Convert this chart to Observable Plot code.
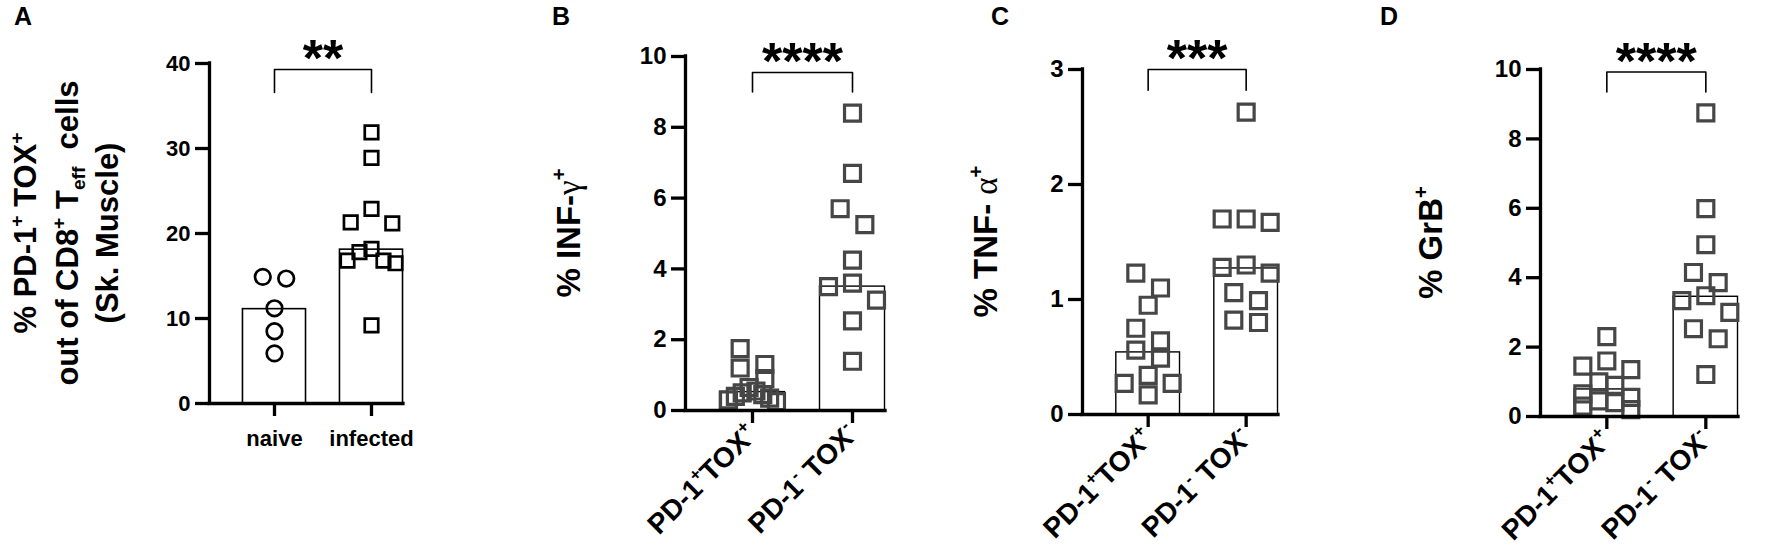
<!DOCTYPE html>
<html>
<head>
<meta charset="utf-8">
<script src="https://cdn.jsdelivr.net/npm/d3@7"></script>
<script src="https://cdn.jsdelivr.net/npm/@observablehq/plot@0.6"></script>
<style>
  html, body { margin: 0; padding: 0; background: #fff; }
  #fig { position: relative; width: 1772px; height: 550px; background: #fff; overflow: hidden; }
  #fig svg { position: absolute; top: 0; overflow: visible; }
  #fig svg text { font-family: "Liberation Sans", Arial, sans-serif; white-space: pre; }
  #fig svg line { stroke-width: 3.3px !important; stroke-linecap: square; }
  #fig svg g[aria-label$="tick"] path { stroke-width: 3.3px !important; }
</style>
</head>
<body>
<div id="fig"></div>
<script>
// ---------------- data ----------------
const panelLetters = ["A", "B", "C", "D"];

const aCategories = ["naive", "infected"];
const aNaive = [14.9, 14.7, 11.2, 8.5, 5.9];
const aInfected = [31.9, 28.9, 22.9, 21.3, 21.2, 18.2, 17.8, 16.8, 16.8, 16.5, 9.2];
const aBars = [11.1, 18.1];

const bcdCategories = ["PD-1^{+}TOX^{+}", "PD-1^{-} TOX^{-}"];

const bPos = [1.75, 1.3, 1.2, 0.9, 0.65, 0.55, 0.5, 0.45, 0.4, 0.35, 0.3, 0.25];
const bNeg = [8.4, 6.7, 5.7, 5.25, 4.25, 3.6, 3.5, 3.12, 2.53, 1.39];
const bBars = [0.52, 3.5];

const cPos = [1.23, 1.10, 0.95, 0.75, 0.64, 0.56, 0.49, 0.34, 0.27, 0.27, 0.17];
const cNeg = [2.63, 1.70, 1.67, 1.70, 1.30, 1.23, 1.28, 1.06, 0.99, 0.80, 0.82];
const cBars = [0.54, 1.27];

const dPos = [2.3, 1.6, 1.45, 1.35, 1.0, 0.9, 0.65, 0.55, 0.45, 0.4, 0.3, 0.2];
const dNeg = [8.75, 5.99, 4.95, 4.15, 3.86, 3.48, 3.34, 3.0, 2.53, 2.24, 1.21];
const dBars = [0.78, 3.45];

const yTicksA = [0, 10, 20, 30, 40];
const yTicksB = [0, 2, 4, 6, 8, 10];
const yTicksC = [0, 1, 2, 3];
const yTicksD = [0, 2, 4, 6, 8, 10];
const yMax = [40, 10, 3, 10];

const sigTop = [39.3, 9.55, 3.0, 9.93];
const sigFoot = [36.6, 9.0, 2.82, 9.35];
const sigStars = ["**", "****", "***", "****"];

const yLabelA = ["% PD-1^{+} TOX^{+}", "out of CD8^{+} T_{eff}  cells", "(Sk. Muscle)"];
const yLabelB = ["% INF-~{γ}^{+}"];
const yLabelC = ["% TNF- ~{α}^{+}"];
const yLabelD = ["% GrB^{+}"];

// ---------------- helpers ----------------
function rich(sel, markup, fs) {
  sel.text(null);
  const re = /(\^\{[^}]*\}|_\{[^}]*\}|~\{[^}]*\})/g;
  const parts = markup.split(re).filter(s => s !== "" && s !== undefined);
  let shift = 0;
  for (const p of parts) {
    let txt = p, size = fs, target = 0, serif = false;
    if (p.startsWith("^{")) { txt = p.slice(2, -1); size = fs * 0.62; target = -0.42 * fs; }
    else if (p.startsWith("_{")) { txt = p.slice(2, -1); size = fs * 0.62; target = 0.22 * fs; }
    else if (p.startsWith("~{")) { txt = p.slice(2, -1); serif = true; }
    const ts = sel.append("tspan").attr("font-size", size).text(txt);
    if (target !== shift) { ts.attr("dy", target - shift); shift = target; }
    if (serif) ts.attr("font-family", "'Liberation Serif', 'DejaVu Serif', serif").attr("font-weight", "normal");
  }
}

// Prism-like column scatter: rows of close values spread horizontally
function columnScatter(values, ppu, markerPx, maxSpreadPx, pxPerX) {
  const sorted = values.map((v, i) => ({v, i})).sort((a, b) => b.v - a.v);
  const rows = [];
  for (const p of sorted) {
    const row = rows[rows.length - 1];
    if (row && (row[0].v - p.v) * ppu < markerPx) row.push(p); else rows.push([p]);
  }
  const out = [];
  for (const row of rows) {
    const n = row.length;
    const step = n > 1 ? Math.min(markerPx * 1.3, maxSpreadPx / (n - 1)) : 0;
    const slots = d3.range(n).map(k => (k - (n - 1) / 2) * step)
      .sort((a, b) => Math.abs(a) - Math.abs(b) || a - b);
    row.forEach((p, k) => out.push({v: p.v, dx: slots[k] / pxPerX}));
  }
  return out;
}

// ---------------- layout ----------------
const H = 550;
const X0 = 0.33, X1 = 2.33, HALF = 0.325;
const cfg = [
  {left: 0,    width: 440, ml: 209, pw: 194, mt: 63, mb: 147, tickFont: 22, catFont: 22, rotate: 0,
   cats: aCategories, groups: [aNaive, aInfected], bars: aBars, yTicks: yTicksA,
   syms: ["circle", "square"], rs: [7.8, 7.6], color: "#000", sw: 2.7, markerPx: [18, 16], barSW: 1.6,
   ylab: yLabelA, ylabX: [36, 78, 118], ylabFont: 31, letterX: 23},
  {left: 440,  width: 450, ml: 245, pw: 200, mt: 56, mb: 140, tickFont: 24, catFont: 28, rotate: -45,
   cats: bcdCategories, groups: [bPos, bNeg], bars: bBars, yTicks: yTicksB,
   syms: ["square", "square"], rs: [9, 9], color: "#464646", sw: 3.2, markerPx: [19, 19], barSW: 1.4,
   ylab: yLabelB, ylabX: [140], ylabFont: 33, letterX: 121},
  {left: 890,  width: 440, ml: 192, pw: 196, mt: 69, mb: 136, tickFont: 24, catFont: 28, rotate: -45,
   cats: bcdCategories, groups: [cPos, cNeg], bars: cBars, yTicks: yTicksC,
   syms: ["square", "square"], rs: [9, 9], color: "#464646", sw: 3.2, markerPx: [19, 19], barSW: 1.4,
   ylab: yLabelC, ylabX: [107], ylabFont: 33, letterX: 110},
  {left: 1330, width: 442, ml: 210, pw: 198, mt: 69, mb: 134, tickFont: 24, catFont: 28, rotate: -45,
   cats: bcdCategories, groups: [dPos, dNeg], bars: dBars, yTicks: yTicksD,
   syms: ["square", "square"], rs: [9, 9], color: "#464646", sw: 3.2, markerPx: [19, 19], barSW: 1.4,
   ylab: yLabelD, ylabX: [112], ylabFont: 33, letterX: 59}
];

const fig = document.getElementById("fig");

cfg.forEach((c, pi) => {
  const ph = H - c.mt - c.mb;
  const ppu = ph / yMax[pi];
  const pxPerX = c.pw / (X1 - X0);
  const barData = c.bars.map((v, i) => ({x1: i + 1 - HALF, x2: i + 1 + HALF, v}));
  const dotMarks = c.groups.map((vals, gi) => {
    const pts = columnScatter(vals, ppu, c.markerPx[gi], 48, pxPerX);
    return Plot.dot(pts, {
      x: d => gi + 1 + d.dx, y: "v", symbol: c.syms[gi], r: c.rs[gi],
      stroke: c.color, strokeWidth: c.sw, fill: "none"
    });
  });
  const bracket = [
    {x: 1, y: sigFoot[pi]}, {x: 1, y: sigTop[pi]},
    {x: 2, y: sigTop[pi]}, {x: 2, y: sigFoot[pi]}
  ];
  const starFs = 52;

  const svg = Plot.plot({
    width: c.width, height: H,
    marginLeft: c.ml, marginRight: c.width - c.ml - c.pw,
    marginTop: c.mt, marginBottom: c.mb,
    x: {domain: [X0, X1], axis: null},
    y: {domain: [0, yMax[pi]], axis: null},
    style: {fontFamily: "'Liberation Sans', Arial, sans-serif", background: "transparent", overflow: "visible"},
    marks: [
      Plot.rect(barData, {x1: "x1", x2: "x2", y1: 0, y2: "v", fill: "white", stroke: "black", strokeWidth: c.barSW}),
      ...dotMarks,
      Plot.line(bracket, {x: "x", y: "y", stroke: "black", strokeWidth: 1.6}),
      Plot.text([sigStars[pi]], {x: 1.5, y: sigTop[pi], text: d => d, fontSize: starFs, fontWeight: "bold",
        dy: -23 + 0.25 * starFs, fill: "black"}),
      Plot.ruleX([X0], {y1: 0, y2: yMax[pi], stroke: "black", strokeWidth: 3.3}),
      Plot.ruleY([0], {stroke: "black", strokeWidth: 3.3}),
      Plot.axisY({ticks: c.yTicks, tickSize: 14, tickPadding: 5, fontSize: c.tickFont, fontWeight: "bold",
        strokeWidth: 3.3, label: null, tickFormat: d => String(d)}),
      Plot.axisX({ticks: [1, 2], tickFormat: d => c.cats[d - 1], tickSize: 13,
        tickPadding: c.rotate ? 6 : 14, tickRotate: c.rotate, fontSize: c.catFont, fontWeight: "bold",
        strokeWidth: 3.3, label: null})
    ]
  });
  svg.style.left = c.left + "px";
  fig.appendChild(svg);

  const s = d3.select(svg);
  // rich category labels (superscripts)
  s.selectAll('g[aria-label="x-axis tick label"] text').each(function() {
    const t = this.textContent;
    rich(d3.select(this), t, c.catFont);
  });
  // y-axis label
  const cy = c.mt + ph / 2;
  c.ylab.forEach((line, li) => {
    const t = s.append("text")
      .attr("transform", `translate(${c.ylabX[li]},${cy}) rotate(-90)`)
      .attr("text-anchor", "middle")
      .attr("font-weight", "bold")
      .attr("font-size", c.ylabFont)
      .attr("fill", "black");
    rich(t, line, c.ylabFont);
  });
  // panel letter
  s.append("text")
    .attr("x", c.letterX).attr("y", 25)
    .attr("text-anchor", "middle")
    .attr("font-weight", "bold")
    .attr("font-size", 25)
    .attr("fill", "black")
    .text(panelLetters[pi]);
});
</script>
</body>
</html>
